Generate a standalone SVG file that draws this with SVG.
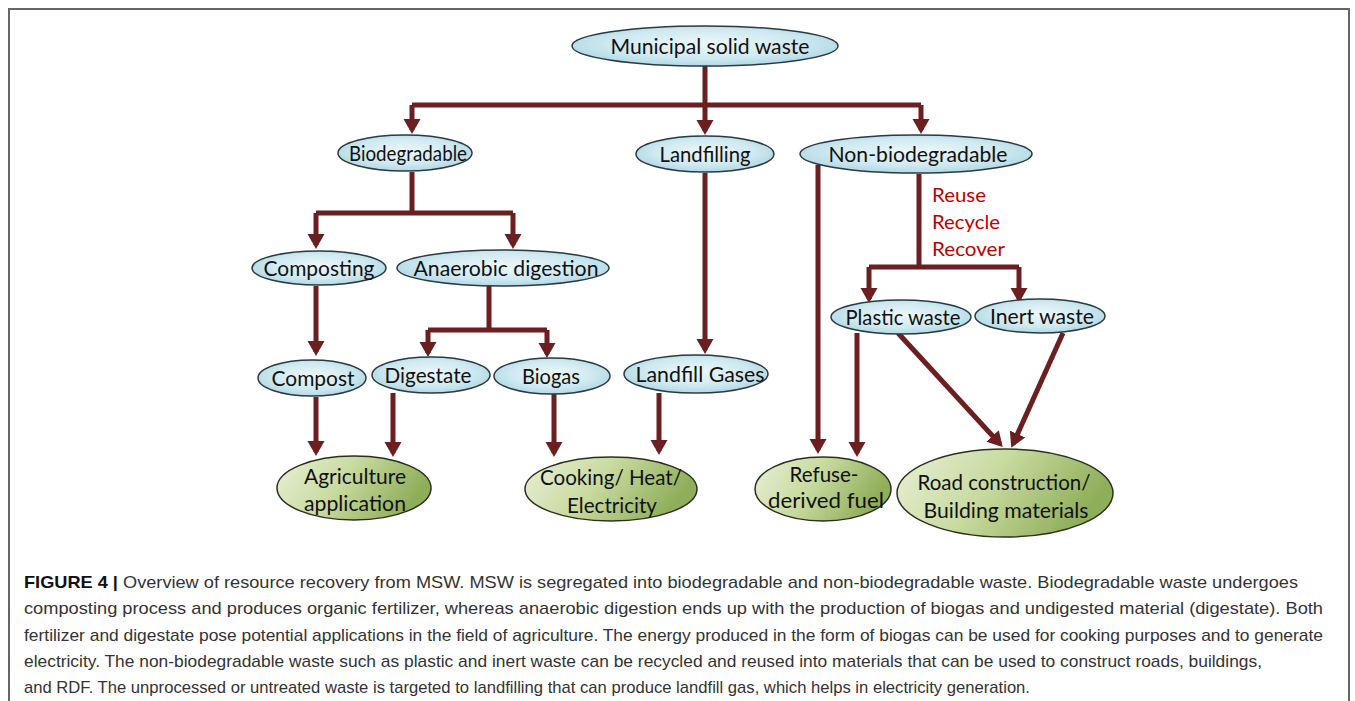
<svg xmlns="http://www.w3.org/2000/svg" width="1355" height="701" viewBox="0 0 1355 701">
<style>
.blue{fill:url(#gb);stroke:#2a3a40;stroke-width:1.5}
.green{fill:url(#gg);stroke:#2a3020;stroke-width:1.5}
.t{font-family:Lato,"Open Sans",sans-serif;font-size:21.5px;fill:#111;text-anchor:middle}
.r{font-family:Lato,"Open Sans",sans-serif;font-size:20px;fill:#c00000}
.c{stroke:#6b1f20;stroke-width:5;fill:none}
.cap{font-family:"Liberation Sans",Arial,sans-serif;font-size:17px;fill:#333}
</style>
<defs>
<radialGradient id="gb" cx="0.5" cy="0.45" r="0.6">
<stop offset="0" stop-color="#eef8fb"/>
<stop offset="0.6" stop-color="#cfe9f1"/>
<stop offset="1" stop-color="#a9d4e2"/>
</radialGradient>
<linearGradient id="gg" x1="0" y1="0" x2="1" y2="0.3">
<stop offset="0" stop-color="#e9f0d8"/>
<stop offset="0.5" stop-color="#c8da9f"/>
<stop offset="1" stop-color="#8fae5a"/>
</linearGradient>
<marker id="ah" markerWidth="4" markerHeight="4" refX="2.2" refY="2" orient="auto" markerUnits="strokeWidth">
<path d="M0,0.3 L3,2 L0,3.7 z" fill="#6b1f20"/>
</marker>
</defs>
<rect x="9" y="9" width="1340" height="720" fill="#fff" stroke="#666" stroke-width="2"/>

<g id="connectors">
<path class="c" d="M705,66 V105"/>
<path class="c" d="M412,105 H921"/>
<path class="c" d="M412,105 V130" marker-end="url(#ah)"/>
<path class="c" d="M705,105 V131" marker-end="url(#ah)"/>
<path class="c" d="M921,105 V130" marker-end="url(#ah)"/>
<path class="c" d="M412,172 V213 M316,213 H513"/>
<path class="c" d="M316,213 V245" marker-end="url(#ah)"/>
<path class="c" d="M513,213 V245" marker-end="url(#ah)"/>
<path class="c" d="M489,286 V330 M428,330 H547"/>
<path class="c" d="M428,330 V353" marker-end="url(#ah)"/>
<path class="c" d="M547,330 V354" marker-end="url(#ah)"/>
<path class="c" d="M316,286 V352" marker-end="url(#ah)"/>
<path class="c" d="M705,173 V350" marker-end="url(#ah)"/>
<path class="c" d="M316,397 V452" marker-end="url(#ah)"/>
<path class="c" d="M393,393 V453" marker-end="url(#ah)"/>
<path class="c" d="M554,394 V453" marker-end="url(#ah)"/>
<path class="c" d="M659,393 V451" marker-end="url(#ah)"/>
<path class="c" d="M818,165 V450" marker-end="url(#ah)"/>
<path class="c" d="M919,174 V267 M869,267 H1019"/>
<path class="c" d="M869,267 V299" marker-end="url(#ah)"/>
<path class="c" d="M1019,267 V299" marker-end="url(#ah)"/>
<path class="c" d="M857,333 V453" marker-end="url(#ah)"/>
<path class="c" d="M898,333 L1000,444" stroke-width="5.5" marker-end="url(#ah)"/>
<path class="c" d="M1063,333 L1013,444" stroke-width="5.5" marker-end="url(#ah)"/>
</g>

<g id="msw"><ellipse class="blue" cx="705" cy="46" rx="133" ry="20"/><text class="t" x="710" y="54" textLength="199" lengthAdjust="spacingAndGlyphs">Municipal solid waste</text></g>
<g id="biodegradable"><ellipse class="blue" cx="405" cy="153" rx="67" ry="18"/><text class="t" x="408" y="161" textLength="118" lengthAdjust="spacingAndGlyphs">Biodegradable</text></g>
<g id="landfilling"><ellipse class="blue" cx="705" cy="154" rx="69" ry="18"/><text class="t" x="705" y="162" textLength="91" lengthAdjust="spacingAndGlyphs">Landfilling</text></g>
<g id="nonbio"><ellipse class="blue" cx="916" cy="154" rx="116" ry="19"/><text class="t" x="918" y="162" textLength="179" lengthAdjust="spacingAndGlyphs">Non-biodegradable</text></g>
<g id="composting"><ellipse class="blue" cx="319" cy="268" rx="67" ry="17"/><text class="t" x="319" y="276" textLength="111" lengthAdjust="spacingAndGlyphs">Composting</text></g>
<g id="anaerobic"><ellipse class="blue" cx="503" cy="268" rx="106" ry="18"/><text class="t" x="506" y="276" textLength="185" lengthAdjust="spacingAndGlyphs">Anaerobic digestion</text></g>
<g id="compost"><ellipse class="blue" cx="312" cy="378" rx="54" ry="18"/><text class="t" x="313" y="386" textLength="83" lengthAdjust="spacingAndGlyphs">Compost</text></g>
<g id="digestate"><ellipse class="blue" cx="431" cy="375" rx="59" ry="18"/><text class="t" x="428" y="383" textLength="87" lengthAdjust="spacingAndGlyphs">Digestate</text></g>
<g id="biogas"><ellipse class="blue" cx="552" cy="376" rx="58" ry="18"/><text class="t" x="551" y="384" textLength="58" lengthAdjust="spacingAndGlyphs">Biogas</text></g>
<g id="landfillgases"><ellipse class="blue" cx="696" cy="374" rx="72" ry="19"/><text class="t" x="700" y="382" textLength="129" lengthAdjust="spacingAndGlyphs">Landfill Gases</text></g>
<g id="plastic"><ellipse class="blue" cx="901" cy="317" rx="70" ry="17"/><text class="t" x="903" y="325" textLength="115" lengthAdjust="spacingAndGlyphs">Plastic waste</text></g>
<g id="inert"><ellipse class="blue" cx="1040" cy="316" rx="65" ry="17"/><text class="t" x="1042" y="324" textLength="104" lengthAdjust="spacingAndGlyphs">Inert waste</text></g>

<g id="agriculture"><ellipse class="green" cx="354" cy="488" rx="77" ry="32"/><text class="t" x="355" y="484" textLength="102" lengthAdjust="spacingAndGlyphs">Agriculture</text><text class="t" x="355" y="511" textLength="102" lengthAdjust="spacingAndGlyphs">application</text></g>
<g id="cooking"><ellipse class="green" cx="611" cy="489" rx="86" ry="32"/><text class="t" x="611" y="485" textLength="142" lengthAdjust="spacingAndGlyphs">Cooking/ Heat/</text><text class="t" x="612" y="513" textLength="90" lengthAdjust="spacingAndGlyphs">Electricity</text></g>
<g id="rdf"><ellipse class="green" cx="823" cy="489" rx="68" ry="32"/><text class="t" x="824" y="482" textLength="69" lengthAdjust="spacingAndGlyphs">Refuse-</text><text class="t" x="826" y="508" textLength="116" lengthAdjust="spacingAndGlyphs">derived fuel</text></g>
<g id="road"><ellipse class="green" cx="1005" cy="493" rx="108" ry="44"/><text class="t" x="1004" y="490" textLength="173" lengthAdjust="spacingAndGlyphs">Road construction/</text><text class="t" x="1006" y="518" textLength="165" lengthAdjust="spacingAndGlyphs">Building materials</text></g>

<g id="rrr">
<text class="r" x="932" y="202" textLength="54" lengthAdjust="spacingAndGlyphs">Reuse</text>
<text class="r" x="932" y="229" textLength="68" lengthAdjust="spacingAndGlyphs">Recycle</text>
<text class="r" x="932" y="256" textLength="73" lengthAdjust="spacingAndGlyphs">Recover</text>
</g>

<g id="caption">
<text class="cap" x="24" y="588" textLength="1274" lengthAdjust="spacingAndGlyphs"><tspan font-weight="bold" fill="#111">FIGURE 4 |</tspan> Overview of resource recovery from MSW. MSW is segregated into biodegradable and non-biodegradable waste. Biodegradable waste undergoes</text>
<text class="cap" x="24" y="614" textLength="1299" lengthAdjust="spacingAndGlyphs">composting process and produces organic fertilizer, whereas anaerobic digestion ends up with the production of biogas and undigested material (digestate). Both</text>
<text class="cap" x="24" y="641" textLength="1299" lengthAdjust="spacingAndGlyphs">fertilizer and digestate pose potential applications in the field of agriculture. The energy produced in the form of biogas can be used for cooking purposes and to generate</text>
<text class="cap" x="24" y="667" textLength="1238" lengthAdjust="spacingAndGlyphs">electricity. The non-biodegradable waste such as plastic and inert waste can be recycled and reused into materials that can be used to construct roads, buildings,</text>
<text class="cap" x="24" y="693" textLength="1006" lengthAdjust="spacingAndGlyphs">and RDF. The unprocessed or untreated waste is targeted to landfilling that can produce landfill gas, which helps in electricity generation.</text>
</g>
</svg>
